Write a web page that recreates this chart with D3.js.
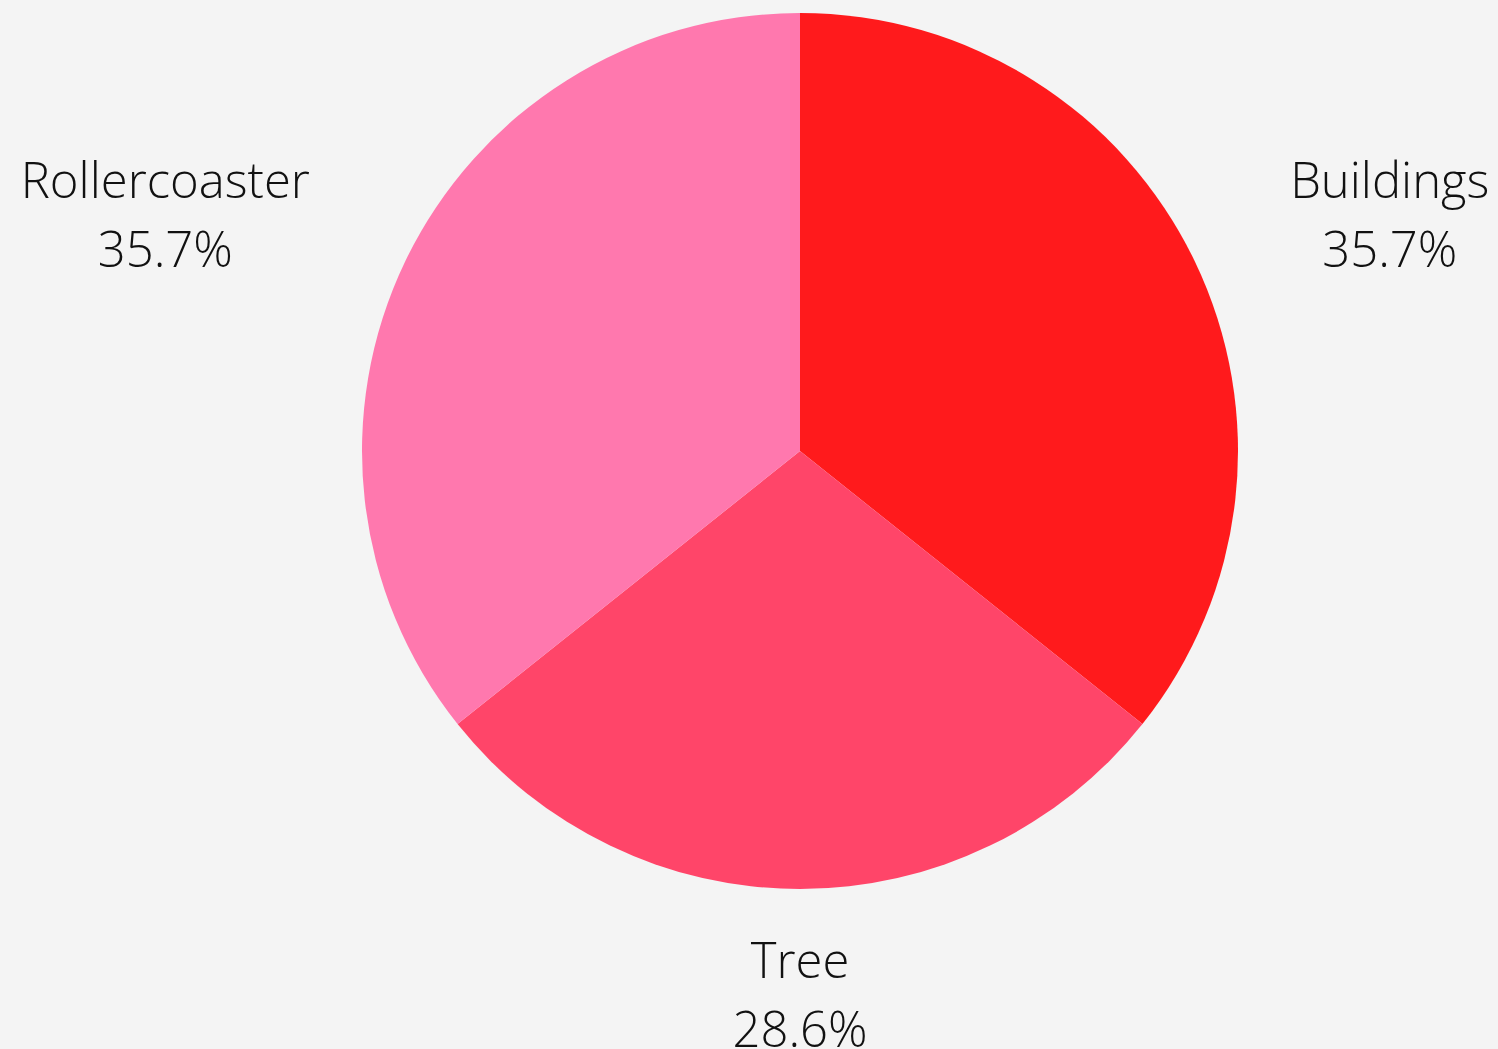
<!DOCTYPE html>
<html>
<head>
<meta charset="utf-8">
<script src="https://cdn.jsdelivr.net/npm/d3@7"></script>
<style>
  html, body { margin: 0; padding: 0; background: #f4f4f4; }
  svg { display: block; }
</style>
</head>
<body>
<svg id="chart" width="1498" height="1049"></svg>
<script>
// Slice data, clockwise from 12 o'clock
const categories = ["Buildings", "Tree", "Rollercoaster"];
const values = [5, 4, 5];
const colors = ["#ff1a1c", "#ff4569", "#ff78ae"];

const width = 1498, height = 1049;
const cx = 800, cy = 451, radius = 438;
const labelRadius = 544;

const svg = d3.select("#chart");
svg.append("rect").attr("width", width).attr("height", height).attr("fill", "#f4f4f4");

const total = d3.sum(values);
const data = categories.map((c, i) => ({ name: c, value: values[i], color: colors[i] }));

const pie = d3.pie().sort(null).value(d => d.value);
const arc = d3.arc().innerRadius(0).outerRadius(radius);
const arcs = pie(data);

const g = svg.append("g").attr("transform", `translate(${cx},${cy})`);

g.selectAll("path.slice")
  .data(arcs)
  .join("path")
  .attr("class", "slice")
  .attr("d", arc)
  .attr("fill", d => d.data.color);

const fmt = d3.format(".1%");

// Outside labels: two centred lines, the block pushed away from the pie
g.selectAll("text.label")
  .data(arcs)
  .join("text")
  .attr("class", "label")
  .attr("font-family", "'Open Sans', sans-serif")
  .attr("font-weight", 300)
  .attr("font-size", 49)
  .attr("fill", "#111")
  .attr("text-anchor", "middle")
  .each(function(d) {
    const mid = (d.startAngle + d.endAngle) / 2;
    const dx = Math.sin(mid), dy = -Math.cos(mid);
    const px = labelRadius * dx, py = labelRadius * dy;
    const t = d3.select(this);
    const l1 = t.append("tspan").attr("y", py - 17).text(d.data.name);
    const l2 = t.append("tspan").attr("y", py + 52).text(fmt(d.data.value / total));
    const w = Math.max(l1.node().getComputedTextLength(), l2.node().getComputedTextLength());
    const side = Math.abs(dx) < 0.05 ? 0 : Math.sign(dx);
    const x = px + side * w / 2;
    l1.attr("x", x);
    l2.attr("x", x);
  });
</script>
</body>
</html>
